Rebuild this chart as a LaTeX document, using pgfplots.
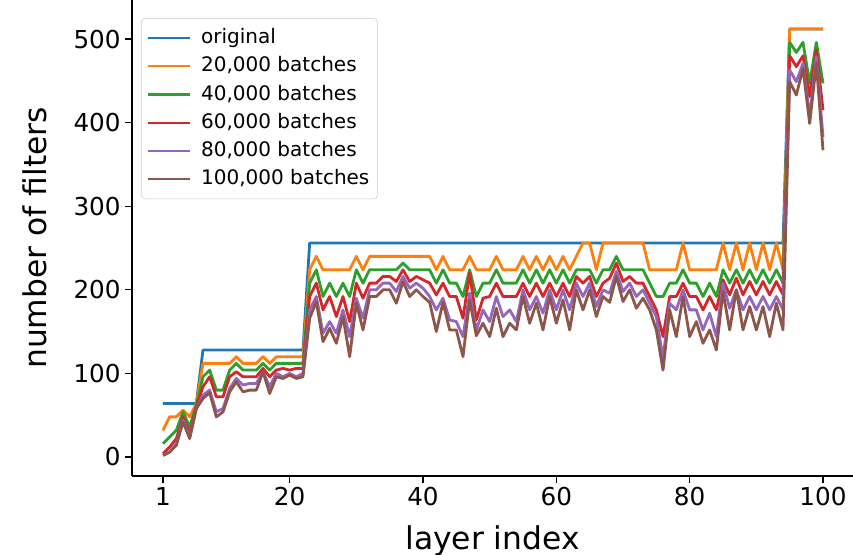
\documentclass[border=0pt]{standalone}
\usepackage{fontspec}
\setmainfont{DejaVu Sans}
\usepackage{pgfplots}
\usepackage{pgfplotstable}
\pgfplotsset{compat=1.18}
\definecolor{cA}{HTML}{1F77B4}
\definecolor{cB}{HTML}{FF7F0E}
\definecolor{cC}{HTML}{2CA02C}
\definecolor{cD}{HTML}{D62728}
\definecolor{cE}{HTML}{9467BD}
\definecolor{cF}{HTML}{8C564B}
\pgfplotstableread{
L O A B C D E
1 64 32 16 4 2 2
2 64 48 24 12 6 6
3 64 48 32 22 16 14
4 64 56 54 48 44 42
5 64 48 36 28 24 22
6 64 64 62 60 58 58
7 128 112 96 84 74 70
8 128 112 104 96 80 77
9 128 112 80 72 54 48
10 128 112 80 72 58 54
11 128 112 104 96 82 78
12 128 120 112 102 94 90
13 128 112 104 96 86 78
14 128 112 104 96 88 80
15 128 112 104 96 88 80
16 128 120 112 106 102 102
17 128 112 104 96 84 76
18 128 120 112 104 100 96
19 128 120 112 106 96 94
20 128 120 112 104 100 98
21 128 120 112 106 96 94
22 128 120 112 106 100 96
23 256 224 208 192 176 166
24 256 240 224 208 192 186
25 256 224 192 176 148 138
26 256 224 208 192 162 154
27 256 224 192 168 148 136
28 256 224 208 192 176 168
29 256 224 192 162 144 120
30 256 240 224 208 190 184
31 256 224 208 190 166 152
32 256 240 224 208 200 192
33 256 240 224 208 200 192
34 256 240 224 216 208 200
35 256 240 224 216 208 200
36 256 240 224 210 198 184
37 256 240 232 224 216 210
38 256 240 224 210 202 192
39 256 240 224 216 208 200
40 256 240 224 212 202 192
41 256 240 224 208 192 185
42 256 224 208 194 176 150
43 256 240 224 208 190 185
44 256 224 208 192 164 152
45 256 224 208 192 162 152
46 256 224 192 166 144 120
47 256 240 224 220 196 188
48 256 224 192 164 152 145
49 256 224 208 190 176 160
50 256 224 208 192 162 144
51 256 240 224 208 192 178
52 256 224 208 192 168 144
53 256 224 208 192 176 160
54 256 224 208 192 162 152
55 256 240 224 208 200 192
56 256 224 208 192 176 160
57 256 240 224 208 192 184
58 256 224 208 192 172 152
59 256 240 224 208 200 192
60 256 224 208 192 176 160
61 256 240 224 208 200 188
62 256 224 208 192 176 152
63 256 240 224 216 208 200
64 256 256 224 208 192 176
65 256 256 224 216 208 200
66 256 224 208 192 180 168
67 256 256 224 208 200 192
68 256 256 224 214 196 185
69 256 256 240 232 222 216
70 256 256 224 210 198 186
71 256 256 224 216 208 200
72 256 256 224 208 192 178
73 256 256 224 208 200 190
74 256 224 208 192 184 176
75 256 224 192 176 168 152
76 256 224 192 144 118 104
77 256 224 208 192 184 176
78 256 224 208 192 176 144
79 256 256 224 208 200 192
80 256 224 208 192 176 144
81 256 224 208 192 176 162
82 256 224 192 176 152 136
83 256 224 208 192 172 152
84 256 224 192 176 144 128
85 256 256 224 212 208 198
86 256 224 208 194 178 152
87 256 256 224 214 200 200
88 256 224 208 194 176 152
89 256 256 224 210 192 180
90 256 224 208 194 176 152
91 256 256 224 210 192 180
92 256 224 208 194 176 144
93 256 256 224 210 192 184
94 256 224 208 194 176 152
95 512 512 496 480 463 449
96 512 512 484 467 449 433
97 512 512 496 480 471 465
98 512 512 447 431 407 399
99 512 512 496 487 479 471
100 512 512 447 415 383 367
}\data
\begin{document}
\begin{tikzpicture}
\begin{axis}[
  name=ax,
  scale only axis,
  width=540.75pt, height=357pt,
  xmin=-3.65, xmax=104.5, ymin=-22.7, ymax=546.7,
  axis x line*=bottom, axis y line*=left,
  axis line style={line width=0.9pt},
  xtick={1,20,40,60,80,100},
  ytick={0,100,200,300,400,500},
  tick align=outside,
  major tick length=5pt,
  every tick/.style={black, line width=0.9pt},
  /pgf/number format/assume math mode=true,
  tick label style={font=\fontsize{18.5}{22}\selectfont},
  xlabel={layer index}, ylabel={number of filters},
  label style={font=\fontsize{23.5}{27}\selectfont},
  xlabel style={at={(axis description cs:0.5,-0.1355)}, anchor=center},
  ylabel style={at={(axis description cs:-0.1345,0.5)}, anchor=center},
  every axis plot/.append style={line width=2.1pt, line join=round, no markers},
  legend cell align=left,
  legend style={at={(0,1)}, anchor=north west, xshift=6.75pt, yshift=-13.5pt,
    font=\fontsize{15}{18}\selectfont, draw=black!20, rounded corners=3pt,
    fill=white, fill opacity=0.8, text opacity=1, row sep=2.7pt,
    inner xsep=4pt, inner ysep=5.5pt,
    nodes={text height=11.5pt, text depth=3pt, inner ysep=2pt}},
  legend image code/.code={\draw[#1, line width=1.8pt] (0pt,0pt) -- (31.5pt,0pt); \path (37pt,0pt);},
]
\addplot[cA] table[x=L,y=O] {\data};
\addlegendentry{original}
\addplot[cB] table[x=L,y=A] {\data};
\addlegendentry{20,000 batches}
\addplot[cC] table[x=L,y=B] {\data};
\addlegendentry{40,000 batches}
\addplot[cD] table[x=L,y=C] {\data};
\addlegendentry{60,000 batches}
\addplot[cE] table[x=L,y=D] {\data};
\addlegendentry{80,000 batches}
\addplot[cF] table[x=L,y=E] {\data};
\addlegendentry{100,000 batches}
\end{axis}
\pgfresetboundingbox
\path[use as bounding box] ([shift={(-99pt,-59.25pt)}]ax.south west) rectangle ([shift={(540.75pt,357pt)}]ax.south west);
\end{tikzpicture}
\end{document}
